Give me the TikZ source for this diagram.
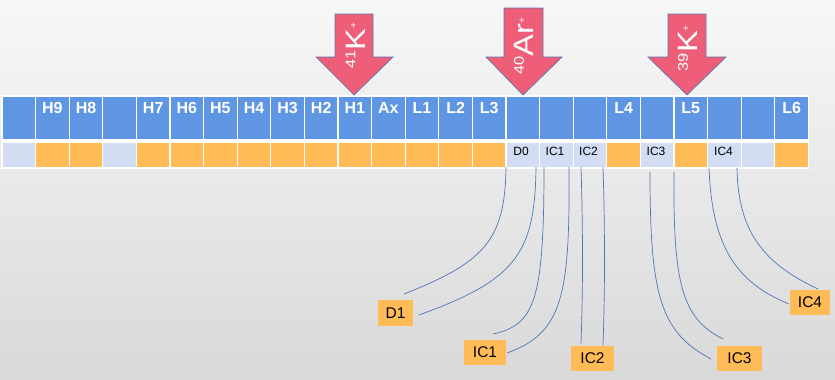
\documentclass[tikz,border=0pt]{standalone}
\usepackage{fontspec}
\setmainfont{Liberation Sans}
\definecolor{cellblue}{HTML}{5F96E4}
\definecolor{cellorange}{HTML}{FFBB55}
\definecolor{celllight}{HTML}{D2DCF2}
\definecolor{arrowpink}{HTML}{EE5E78}
\definecolor{arrowedge}{HTML}{5A78B0}
\definecolor{connblue}{HTML}{4F75B5}
\tikzset{
  topcell/.style={rectangle, fill=cellblue, draw=white, line width=1.2pt, minimum width=33.6pt, minimum height=44pt, inner sep=0pt},
  botcell/.style={rectangle, draw=white, line width=1.2pt, minimum width=33.6pt, minimum height=26pt, inner sep=0pt},
  toplab/.style={text=white, font=\fontsize{16}{16}\selectfont\bfseries, inner sep=0pt},
  botlab/.style={text=black, font=\fontsize{12}{12}\selectfont, inner sep=0pt},
  tagbox/.style={rectangle, fill=cellorange, inner sep=0pt, font=\fontsize{15.5}{15.5}\selectfont},
  conn/.style={draw=connblue, line width=0.7pt},
  bigarrow/.style={fill=arrowpink, draw=arrowedge, line width=0.7pt},
  arrowlab/.style={rotate=90, text=white, inner sep=0pt}
}
\newcommand{\iso}[2]{\scalebox{1.17}[1]{\fontsize{14}{14}\selectfont\raisebox{10pt}{#1}{\fontsize{28}{28}\selectfont #2}\raisebox{9pt}{\fontsize{9}{9}\selectfont +}}}
\begin{document}
\begin{tikzpicture}[x=1pt,y=-1pt]
\useasboundingbox (0,0) rectangle (835,380);
\shade[top color=white!97!black, bottom color=white!85!black] (0,0) rectangle (835,380);

% top row cells
\foreach \i/\t in {0/{},1/H9,2/H8,3/{},4/H7,5/H6,6/H5,7/H4,8/H3,9/H2,10/H1,11/Ax,12/L1,13/L2,14/L3,15/{},16/{},17/{},18/L4,19/{},20/L5,21/{},22/{},23/L6}{
  \node[topcell] (t\i) at ({18.8+33.6*\i},118) {};
  \node[toplab] (tl\i) at ({18.8+33.6*\i},108) {\t};
}
% bottom row cells
\foreach \i/\c in {0/celllight,1/cellorange,2/cellorange,3/celllight,4/cellorange,5/cellorange,6/cellorange,7/cellorange,8/cellorange,9/cellorange,10/cellorange,11/cellorange,12/cellorange,13/cellorange,14/cellorange,15/celllight,16/celllight,17/celllight,18/cellorange,19/celllight,20/cellorange,21/celllight,22/celllight,23/cellorange}{
  \node[botcell, fill=\c] (b\i) at ({18.8+33.6*\i},155) {};
}
\node[botlab] (d0) at (521,151) {D0};
\node[botlab] (ic1a) at (555,151) {IC1};
\node[botlab] (ic2a) at (588.5,151) {IC2};
\node[botlab] (ic3a) at (656,151) {IC3};
\node[botlab] (ic4a) at (723.5,151) {IC4};

% arrows
\path[bigarrow] (335,14) -- (373,14) -- (373,57) -- (393,57) -- (354,95) -- (316,57) -- (335,57) -- cycle;
\node[arrowlab] (k41) at (355.5,45.5) {\iso{41}{K}};
\path[bigarrow] (504,8) -- (543,8) -- (543,57) -- (562,57) -- (523,95) -- (486,57) -- (504,57) -- cycle;
\node[arrowlab] (ar40) at (524,46) {\iso{40}{Ar}};
\path[bigarrow] (668,14) -- (706,14) -- (706,57) -- (726,57) -- (687,95) -- (648,57) -- (668,57) -- cycle;
\node[arrowlab] (k39) at (688,48) {\iso{39}{K}};

% connectors
\coordinate (s1) at (506,167);  \coordinate (e1) at (404,294);
\coordinate (s2) at (536,167);  \coordinate (e2) at (419,315);
\coordinate (s3) at (544,167);  \coordinate (e3) at (493,334);
\coordinate (s4) at (569,167);  \coordinate (e4) at (507,353);
\coordinate (s5) at (581,167);  \coordinate (e5) at (581,344);
\coordinate (s6) at (603,167);  \coordinate (e6) at (603,345);
\coordinate (s7) at (650,172);  \coordinate (e7) at (711,359);
\coordinate (s8) at (674,172);  \coordinate (e8) at (723,339);
\coordinate (s9) at (709,168);  \coordinate (e9) at (789,304);
\coordinate (s10) at (737,168); \coordinate (e10) at (818,289);
\draw[conn] (s1) .. controls (505,240) and (485,262) .. (e1);
\draw[conn] (s2) .. controls (535,255) and (515,280) .. (e2);
\draw[conn] (s3) .. controls (544,300) and (535,325) .. (e3);
\draw[conn] (s4) .. controls (570,295) and (563,333) .. (e4);
\draw[conn] (s5) .. controls (583,230) and (583,290) .. (e5);
\draw[conn] (s6) .. controls (605,230) and (605,290) .. (e6);
\draw[conn] (s7) .. controls (650,295) and (660,332) .. (e7);
\draw[conn] (s8) .. controls (673,285) and (682,318) .. (e8);
\draw[conn] (s9) .. controls (712,245) and (735,282) .. (e9);
\draw[conn] (s10) .. controls (738,228) and (760,262) .. (e10);

% tag boxes
\node[tagbox, minimum width=35pt, minimum height=26pt] (D1) at (395.5,313) {D1};
\node[tagbox, minimum width=42pt, minimum height=25pt] (IC1) at (485,352.5) {IC1};
\node[tagbox, minimum width=43pt, minimum height=25pt] (IC2) at (592.5,358.5) {IC2};
\node[tagbox, minimum width=45pt, minimum height=25pt] (IC3) at (739.5,358.5) {IC3};
\node[tagbox, minimum width=40pt, minimum height=25pt] (IC4) at (810,302.5) {IC4};
\end{tikzpicture}
\end{document}
